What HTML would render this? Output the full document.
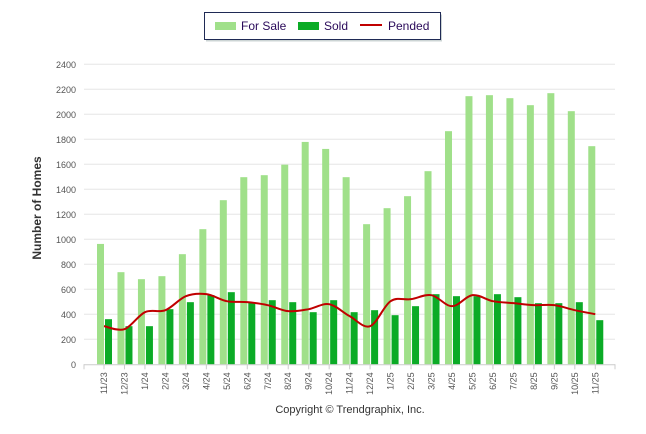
<!DOCTYPE html>
<html><head><meta charset="utf-8"><style>
html,body{margin:0;padding:0;background:#fff;}
svg{display:block;font-family:"Liberation Sans",Arial,sans-serif;}
</style></head><body>
<svg id="chart" width="646" height="434" viewBox="0 0 646 434">
<g>
<rect x="206" y="14.5" width="236" height="27" fill="#9aa" opacity="0.5"/>
<rect x="204.5" y="12.5" width="236" height="27" fill="#fff" stroke="#1f2a55" stroke-width="1"/>
<rect x="215" y="22" width="21" height="8" fill="#a0e08a"/>
<text x="241" y="30" font-size="12" fill="#2a0a5a">For Sale</text>
<rect x="298" y="22" width="21" height="8" fill="#0bab26"/>
<text x="324" y="30" font-size="12" fill="#2a0a5a">Sold</text>
<line x1="360" y1="25" x2="382" y2="25" stroke="#c00000" stroke-width="2"/>
<text x="388" y="30" font-size="12" fill="#2a0a5a">Pended</text>
</g>
<g id="grid"></g><g id="bars"></g><g id="line"></g><g id="axes"></g>
<text transform="translate(41,208) rotate(-90)" text-anchor="middle" font-size="12" font-weight="bold" fill="#333">Number of Homes</text>
<text x="350" y="413" text-anchor="middle" font-size="11" fill="#333">Copyright © Trendgraphix, Inc.</text>
</svg>
<script>
const categories=["11/23","12/23","1/24","2/24","3/24","4/24","5/24","6/24","7/24","8/24","9/24","10/24","11/24","12/24","1/25","2/25","3/25","4/25","5/25","6/25","7/25","8/25","9/25","10/25","11/25"];
const forSale=[963,737,681,705,881,1081,1313,1497,1513,1597,1779,1723,1497,1121,1249,1345,1545,1865,2145,2153,2129,2073,2169,2025,1745];
const sold=[361,305,305,441,497,553,577,497,513,497,417,513,417,433,393,465,561,545,545,561,537,489,489,497,353];
const pended=[305,281,417,433,545,561,505,497,473,425,441,481,385,305,505,521,553,465,553,505,489,473,473,433,401];
const yTicks=[0,200,400,600,800,1000,1200,1400,1600,1800,2000,2200,2400];
const NS="http://www.w3.org/2000/svg";
const y0=364.3,yTop=64.3,yMax=2400;
function yS(v){return y0-(v/yMax)*(y0-yTop);}
function xS(i){return 104+i*20.47;}
function mk(tag,attrs,parent){const e=document.createElementNS(NS,tag);for(const k in attrs)e.setAttribute(k,attrs[k]);parent.appendChild(e);return e;}
const grid=document.getElementById('grid'),bars=document.getElementById('bars'),lineG=document.getElementById('line'),axes=document.getElementById('axes');
yTicks.forEach(t=>{
 if(t>0){const g=mk('line',{x1:84,x2:615,y1:yS(t),y2:yS(t),stroke:'#e6e6e6','stroke-width':1},grid);
 
 }
 const l=mk('text',{x:76,y:yS(t)+3.5,'text-anchor':'end','font-size':9,fill:'#555'},axes);l.textContent=t;
 
 
});
const ax=mk('line',{x1:84,x2:615,y1:y0+0.5,y2:y0+0.5,stroke:'#ccc','stroke-width':1},axes);


categories.forEach((c,i)=>{
 const cx=xS(i);
 const b1=mk('rect',{x:cx-7,y:yS(forSale[i]),width:7,height:y0-yS(forSale[i]),fill:'#a0e08a'},bars);
 
 
 const b2=mk('rect',{x:cx+1,y:yS(sold[i]),width:7,height:y0-yS(sold[i]),fill:'#0bab26'},bars);
 
 
 mk('line',{x1:cx,x2:cx,y1:y0,y2:y0+5,stroke:'#ccc'},axes);
 const t=mk('text',{transform:`translate(${cx+3},${y0+8}) rotate(-90)`,'text-anchor':'end','font-size':9,fill:'#555'},axes);t.textContent=c;
 
 
});
mk('line',{x1:84,x2:84,y1:y0,y2:y0+5,stroke:'#ccc'},axes);
mk('line',{x1:615,x2:615,y1:y0,y2:y0+5,stroke:'#ccc'},axes);
const pts=pended.map((v,i)=>[xS(i),yS(v)]);
let d=`M${pts[0][0]},${pts[0][1]}`;
for(let i=0;i<pts.length-1;i++){
 const p0=pts[Math.max(0,i-1)],p1=pts[i],p2=pts[i+1],p3=pts[Math.min(pts.length-1,i+2)];
 const c1=[p1[0]+(p2[0]-p0[0])/6,p1[1]+(p2[1]-p0[1])/6],c2=[p2[0]-(p3[0]-p1[0])/6,p2[1]-(p3[1]-p1[1])/6];
 d+=` C${c1[0]},${c1[1]} ${c2[0]},${c2[1]} ${p2[0]},${p2[1]}`;
}
const pl=mk('path',{d:d,fill:'none',stroke:'#c00000','stroke-width':2},lineG);


</script>
</body></html>
